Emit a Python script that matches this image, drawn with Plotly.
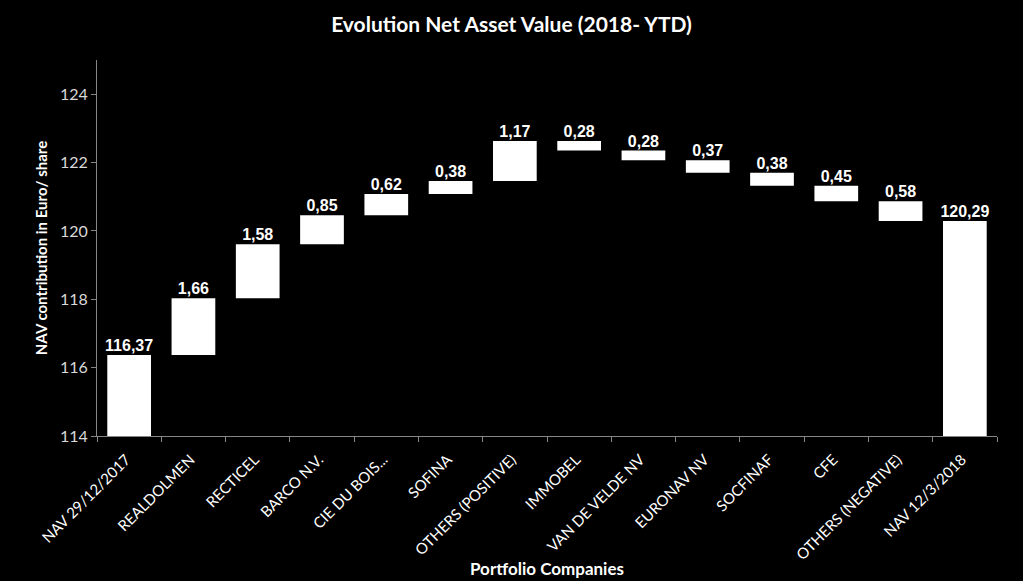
import plotly.graph_objects as go

categories = ["NAV 29/12/2017", "REALDOLMEN", "RECTICEL", "BARCO N.V.", "CIE DU BOIS...",
              "SOFINA", "OTHERS (POSITIVE)", "IMMOBEL", "VAN DE VELDE NV", "EURONAV NV",
              "SOCFINAF", "CFE", "OTHERS (NEGATIVE)", "NAV 12/3/2018"]
start_nav = 116.37
changes = [1.66, 1.58, 0.85, 0.62, 0.38, 1.17, -0.28, -0.28, -0.37, -0.38, -0.45, -0.58]
end_nav = 120.29
y_ticks = [114, 116, 118, 120, 122, 124]

bases, heights, tops, labels = [], [], [], []
bases.append(0); heights.append(start_nav); tops.append(start_nav); labels.append(f"{start_nav:.2f}".replace(".", ","))
level = start_nav
for c in changes:
    new = level + c
    lo, hi = min(level, new), max(level, new)
    bases.append(lo); heights.append(hi - lo); tops.append(hi)
    labels.append(f"{abs(c):.2f}".replace(".", ","))
    level = new
bases.append(0); heights.append(end_nav); tops.append(end_nav); labels.append(f"{end_nav:.2f}".replace(".", ","))

fig = go.Figure()
fig.add_trace(go.Bar(x=categories, y=heights, base=bases, marker=dict(color="white", line=dict(width=0)),
                     width=0.68, hoverinfo="skip"))
fig.add_trace(go.Scatter(x=categories, y=tops, mode="text", text=labels, textposition="top center",
                         textfont=dict(family="Liberation Sans", size=16, color="white", weight="bold"),
                         cliponaxis=False, hoverinfo="skip"))

axis_color = "#868686"
fig.update_layout(
    width=1023, height=581,
    paper_bgcolor="black", plot_bgcolor="black",
    showlegend=False,
    margin=dict(l=97, r=26, t=60, b=145),
    title=dict(text="<b>Evolution Net Asset Value (2018- YTD)</b>", x=0.5, xanchor="center", y=0.957, yanchor="middle",
               font=dict(family="Lato", size=21, color="white")),
    font=dict(family="Lato", color="white"),
    xaxis=dict(type="category", range=[-0.5, len(categories) - 0.5], showgrid=False, showline=True,
               linecolor=axis_color, linewidth=1,
               ticks="outside", tickson="boundaries", ticklen=5, tickcolor=axis_color, automargin=False,
               tickangle=-45, tickfont=dict(family="Lato", size=15, color="white"),
               ticklabelstandoff=8, ticklabelshift=-3),
    yaxis=dict(range=[114, 125], tickvals=y_ticks, showgrid=False, zeroline=False, showline=True, automargin=False,
               linecolor=axis_color, linewidth=1, ticks="outside", ticklen=5, tickcolor=axis_color,
               tickfont=dict(family="Lato", size=16, color="#d9d9d9"),
               title=dict(text="<b>NAV contribution in Euro/ share</b>", font=dict(family="Lato", size=15, color="white"), standoff=8)),
    annotations=[dict(text="<b>Portfolio Companies</b>", xref="paper", yref="paper", x=0.5, y=-132 / 376,
                      xanchor="center", yanchor="middle", showarrow=False,
                      font=dict(family="Lato", size=17, color="white"))],
)
fig.write_html("out.html", config={"displayModeBar": False},
               post_script="document.body.style.margin='0';")
